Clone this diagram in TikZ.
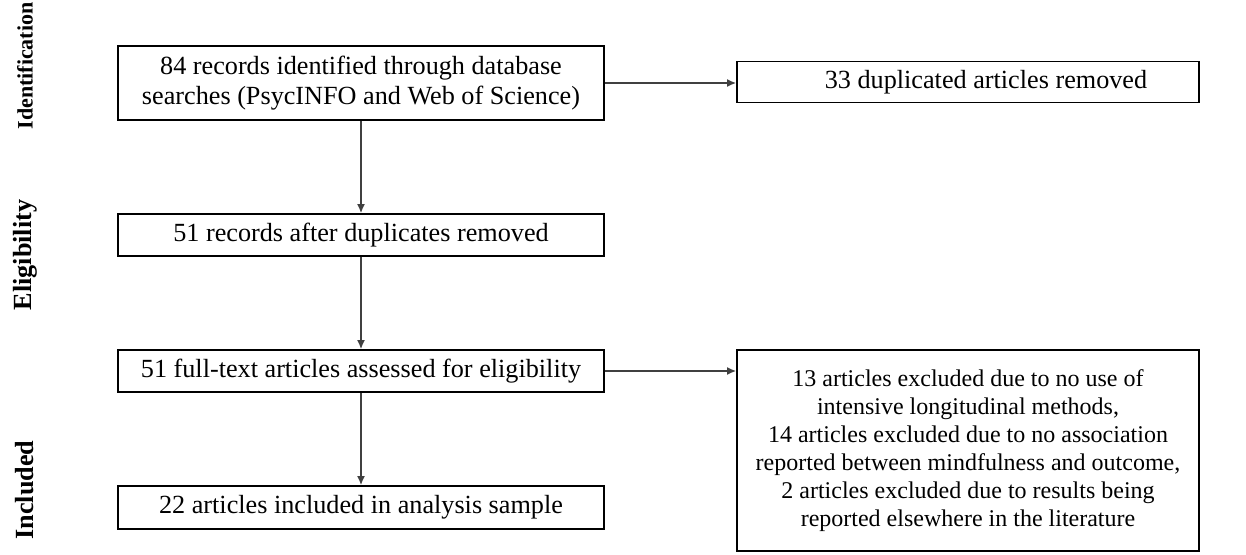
\documentclass[tikz,border=0pt]{standalone}
\usepackage{fontspec}
\setmainfont{Liberation Serif}
\usepackage{tikz}
\usetikzlibrary{arrows.meta, positioning, calc}
\tikzset{
  >={Latex[length=4.5pt,width=4pt]},
  link/.style ={line width=0.7pt, draw=black!75, ->},
  stage/.style={rectangle, draw, line width=0.9pt, inner sep=0pt, align=center,
                font=\fontsize{13.1}{15}\selectfont},
  phase/.style={rotate=90, font=\fontsize{13.1}{15}\selectfont\bfseries},
}
\begin{document}
\begin{tikzpicture}[x=0.5pt, y=-0.5pt]
  \useasboundingbox (0,0) rectangle (1246,555);
  % --- phase labels on the left --------------------------------------------
  \node[phase, font=\fontsize{11}{13}\selectfont\bfseries] (ident) at (25,66) {Identification};
  \node[phase] (elig)  at (25,255) {Eligibility};
  \node[phase] (incl)  at (25,490) {Included};

  % --- main column ----------------------------------------------------------
  \node[stage, minimum width=243pt, minimum height=37pt] (rec)   at (361,83)
    {84 records identified through database\\searches (PsycINFO and Web of Science)};
  \node[stage, minimum width=243pt, minimum height=21pt] (after) at (361,235)
    {51 records after duplicates removed};
  \node[stage, minimum width=243pt, minimum height=21pt] (full)  at (361,371)
    {51 full-text articles assessed for eligibility};
  \node[stage, minimum width=243pt, minimum height=21.5pt] (final) at (361,507.5)
    {22 articles included in analysis sample};

  % --- side column ----------------------------------------------------------
  \node[stage, minimum width=231pt, minimum height=20.5pt] (dup)  at (968,82)
    {\hspace*{18pt}33 duplicated articles removed};
  \node[stage, minimum width=231pt, minimum height=100.5pt,
        font=\fontsize{12}{14}\selectfont] (excl) at (968,450.5)
    {13 articles excluded due to no use of\\intensive longitudinal methods,\\
     14 articles excluded due to no association\\reported between mindfulness and outcome,\\
     2 articles excluded due to results being\\reported elsewhere in the literature};

  \draw[link] (rec)   -- (after);
  \draw[link] (after) -- (full);
  \draw[link] (full)  -- (final);
  \draw[link] (rec)   -- (rec -| dup.west);    % duplicates out
  \draw[link] (full)  -- (full -| excl.west);  % exclusions out
\end{tikzpicture}
\end{document}
